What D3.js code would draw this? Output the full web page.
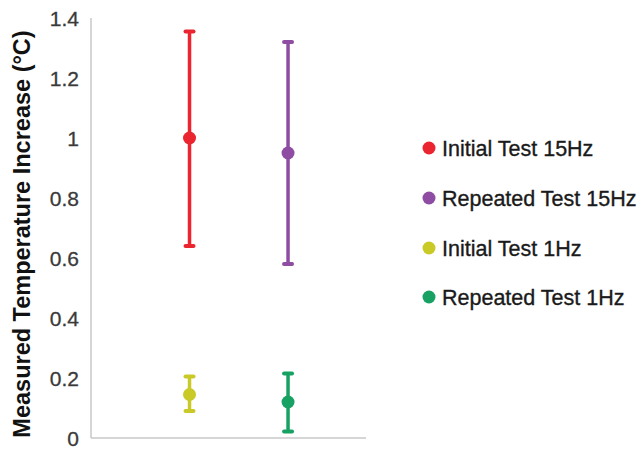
<!DOCTYPE html>
<html>
<head>
<meta charset="utf-8">
<script src="https://cdn.jsdelivr.net/npm/d3@7"></script>
<style>
  html, body { margin: 0; padding: 0; background: #fff; }
  svg { display: block; font-family: "Liberation Sans", Arial, sans-serif; }
</style>
</head>
<body>
<svg id="chart" width="643" height="449"></svg>
<script>
// Series (one point per series with an error range)
const seriesNames = ["Initial Test 15Hz", "Repeated Test 15Hz", "Initial Test 1Hz", "Repeated Test 1Hz"];
const seriesColors = ["#ea2530", "#8e4da2", "#c9c927", "#17a263"];
const xSlots = [1, 2, 1, 2];
const means = [1.0, 0.95, 0.145, 0.12];
const upper = [1.355, 1.32, 0.205, 0.215];
const lower = [0.64, 0.58, 0.09, 0.022];
const yTicks = [0, 0.2, 0.4, 0.6, 0.8, 1, 1.2, 1.4];

const svg = d3.select("#chart");
const y = d3.scaleLinear().domain([0, 1.4]).range([438, 18]);
const x = d3.scaleLinear().domain([0, 2.7]).range([91, 357]);

// Axes
svg.append("line").attr("x1", 91).attr("x2", 91).attr("y1", y(1.4)).attr("y2", y(0))
  .attr("stroke", "#c8c8c8").attr("stroke-width", 1.5);
svg.append("line").attr("x1", 91).attr("x2", 366).attr("y1", y(0)).attr("y2", y(0))
  .attr("stroke", "#c8c8c8").attr("stroke-width", 1.5);

svg.selectAll("text.tick").data(yTicks).join("text")
  .attr("class", "tick")
  .attr("x", 79).attr("y", d => y(d))
  .attr("dy", "0.36em")
  .attr("text-anchor", "end")
  .attr("font-size", 21)
  .attr("fill", "#3a3a3a")
  .attr("stroke", "#3a3a3a").attr("stroke-width", 0.3)
  .text(d => d);

svg.append("text")
  .attr("transform", `translate(22,234) rotate(-90)`)
  .attr("text-anchor", "middle")
  .attr("dy", "0.36em")
  .attr("font-size", 23.5)
  .attr("font-weight", "bold")
  .attr("fill", "#111")
  .text("Measured Temperature Increase (°C)");

// Error bars and points
const idx = d3.range(seriesNames.length);
const g = svg.selectAll("g.pt").data(idx).join("g").attr("class", "pt");
g.append("line")
  .attr("x1", i => x(xSlots[i])).attr("x2", i => x(xSlots[i]))
  .attr("y1", i => y(upper[i])).attr("y2", i => y(lower[i]))
  .attr("stroke", i => seriesColors[i]).attr("stroke-width", 3.5);
[upper, lower].forEach(arr => {
  g.append("line")
    .attr("x1", i => x(xSlots[i]) - 4).attr("x2", i => x(xSlots[i]) + 4)
    .attr("y1", i => y(arr[i])).attr("y2", i => y(arr[i]))
    .attr("stroke", i => seriesColors[i]).attr("stroke-width", 4)
    .attr("stroke-linecap", "round");
});
g.append("circle")
  .attr("cx", i => x(xSlots[i])).attr("cy", i => y(means[i]))
  .attr("r", 6.5)
  .attr("fill", i => seriesColors[i]);

// Legend
const legendY = [148, 198, 248, 297];
const lg = svg.selectAll("g.lg").data(idx).join("g").attr("class", "lg")
  .attr("transform", i => `translate(429,${legendY[i]})`);
lg.append("circle").attr("r", 6.5).attr("fill", i => seriesColors[i]);
lg.append("text")
  .attr("x", 13)
  .attr("dy", "0.36em")
  .attr("font-size", 21.5).attr("fill", "#1a1a1a")
  .attr("stroke", "#1a1a1a").attr("stroke-width", 0.35)
  .text(i => seriesNames[i]);
</script>
</body>
</html>
